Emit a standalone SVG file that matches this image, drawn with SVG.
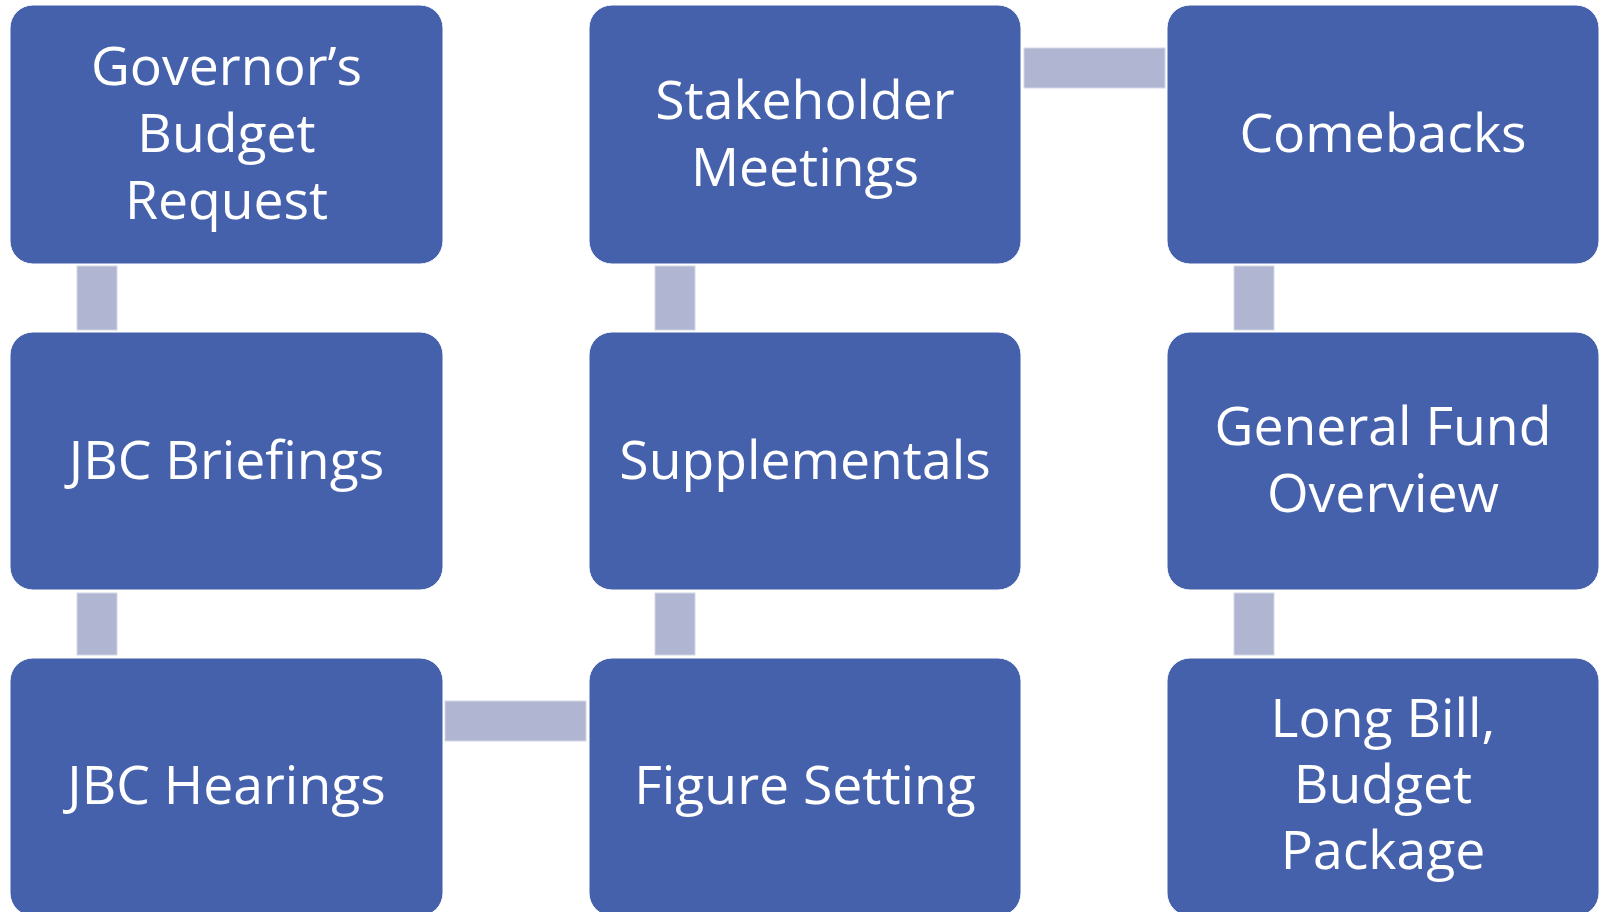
<svg xmlns="http://www.w3.org/2000/svg" width="1600" height="912" viewBox="0 0 1600 912">
<style>
.box{fill:#4661AB;stroke:#FFFFFF;stroke-width:1}
.conn{fill:#B0B6D2;stroke:#D4D7E6;stroke-width:1}
.lbl{font-family:"Open Sans","Liberation Sans",sans-serif;font-size:53.5px;fill:#FFFFFF;text-anchor:middle}
</style>
<rect width="1600" height="912" fill="#FFFFFF"/>
<g id="connectors">
<rect class="conn" x="77" y="266" width="40" height="64"/>
<rect class="conn" x="77" y="593" width="40" height="62"/>
<rect class="conn" x="655" y="266" width="40" height="64"/>
<rect class="conn" x="655" y="593" width="40" height="62"/>
<rect class="conn" x="1234" y="266" width="40" height="64"/>
<rect class="conn" x="1234" y="593" width="40" height="62"/>
<rect class="conn" x="1024" y="48" width="141" height="40"/>
<rect class="conn" x="445" y="701" width="141" height="40"/>
</g>
<g id="n1"><rect class="box" x="10" y="5" width="433" height="259" rx="23"/>
<text class="lbl" x="226.5" y="85">Governor’s</text><text class="lbl" x="226.5" y="152">Budget</text><text class="lbl" x="226.5" y="219">Request</text></g>
<g id="n2"><rect class="box" x="10" y="332" width="433" height="258" rx="23"/>
<text class="lbl" x="226.5" y="479">JBC Briefings</text></g>
<g id="n3"><rect class="box" x="10" y="658" width="433" height="258" rx="23"/>
<text class="lbl" x="226.5" y="804">JBC Hearings</text></g>
<g id="n4"><rect class="box" x="589" y="658" width="432" height="258" rx="23"/>
<text class="lbl" x="805" y="804">Figure Setting</text></g>
<g id="n5"><rect class="box" x="589" y="332" width="432" height="258" rx="23"/>
<text class="lbl" x="805" y="479">Supplementals</text></g>
<g id="n6"><rect class="box" x="589" y="5" width="432" height="259" rx="23"/>
<text class="lbl" x="805" y="119">Stakeholder</text><text class="lbl" x="805" y="186">Meetings</text></g>
<g id="n7"><rect class="box" x="1167" y="5" width="432" height="259" rx="23"/>
<text class="lbl" x="1383" y="152">Comebacks</text></g>
<g id="n8"><rect class="box" x="1167" y="332" width="432" height="258" rx="23"/>
<text class="lbl" x="1383" y="445">General Fund</text><text class="lbl" x="1383" y="512">Overview</text></g>
<g id="n9"><rect class="box" x="1167" y="658" width="432" height="258" rx="23"/>
<text class="lbl" x="1383" y="737">Long Bill,</text><text class="lbl" x="1383" y="803">Budget</text><text class="lbl" x="1383" y="869">Package</text></g>
</svg>
